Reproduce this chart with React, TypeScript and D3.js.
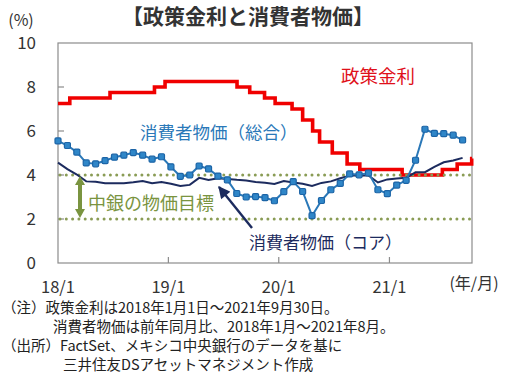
import React from "react";
import * as d3 from "d3";

// policy rate (step changes) and CPI
const rateDates = [
  "2018-01-01", "2018-02-09", "2018-06-22", "2018-11-16", "2018-12-21",
  "2019-08-16", "2019-09-27", "2019-11-15", "2019-12-20", "2020-02-14",
  "2020-03-20", "2020-04-22", "2020-05-15", "2020-06-26", "2020-08-14",
  "2020-09-25", "2021-02-12", "2021-06-25", "2021-08-13", "2021-09-30", "2021-10-01",
];
const rateValues = [
  7.25, 7.5, 7.75, 8.0, 8.25,
  8.0, 7.75, 7.5, 7.25, 7.0,
  6.5, 6.0, 5.5, 5.0, 4.5,
  4.25, 4.0, 4.25, 4.5, 4.75, 4.75,
];

const cpiHeadline = [
  5.55, 5.34, 5.04, 4.55, 4.51, 4.65, 4.81, 4.9, 5.02, 4.9, 4.72, 4.83,
  4.37, 3.94, 4.0, 4.41, 4.28, 3.95, 3.78, 3.16, 3.0, 3.02, 2.97, 2.83,
  3.24, 3.7, 3.25, 2.15, 2.84, 3.33, 3.62, 4.05, 4.01, 4.09, 3.33, 3.15,
  3.54, 3.76, 4.67, 6.08, 5.89, 5.88, 5.81, 5.59,
];
const cpiCore = [
  4.56, 4.27, 4.02, 3.71, 3.69, 3.62, 3.63, 3.63, 3.67, 3.73, 3.63, 3.68,
  3.6, 3.5, 3.55, 3.87, 3.77, 3.85, 3.82, 3.78, 3.75, 3.68, 3.65, 3.59,
  3.73, 3.66, 3.6, 3.5, 3.64, 3.71, 3.85, 3.97, 3.99, 3.98, 3.66, 3.8,
  3.84, 3.87, 4.12, 4.13, 4.37, 4.58, 4.66, 4.78,
];

const targetBand = [2, 4];
const yTicks = [0, 2, 4, 6, 8, 10];
const xTickDates = ["2018-01-01", "2019-01-01", "2020-01-01", "2021-01-01"];
const xTickLabels = ["18/1", "19/1", "20/1", "21/1"];

const notes = [
  "（注）政策金利は2018年1月1日～2021年9月30日。",
  "消費者物価は前年同月比、2018年1月～2021年8月。",
  "（出所）FactSet、メキシコ中央銀行のデータを基に",
  "三井住友DSアセットマネジメント作成",
];

const font = "'Noto Sans CJK JP', 'Noto Sans', sans-serif";
const parse = (s: string) => {
  const [y, m, d] = s.split("-").map(Number);
  return new Date(y, m - 1, d);
};

export default function App() {
  const width = 507;
  const height = 386;
  const left = 58, right = 472, top = 43, bottom = 263;

  const x = d3.scaleTime()
    .domain([parse("2018-01-01"), parse("2021-10-01")])
    .range([left, right]);
  // CPI is monthly on a category axis (2018/1 .. 2021/9)
  const months = d3.timeMonth.range(parse("2018-01-01"), parse("2021-10-01"));
  const xc = d3.scalePoint<Date>().domain(months).range([left, right]);
  const y = d3.scaleLinear().domain([0, 10]).range([bottom, top]);

  const ratePts = rateDates.map((d, i) => [x(parse(d)), y(rateValues[i])] as [number, number]);
  const stepLine = d3.line().curve(d3.curveStepAfter);
  const line = d3.line();

  const headPts = cpiHeadline.map((v, i) => [xc(months[i])!, y(v)] as [number, number]);
  const corePts = cpiCore.map((v, i) => [xc(months[i])!, y(v)] as [number, number]);

  const green = "#7a9440";
  const blue = "#2a78b8";
  const navy = "#1c2b5e";

  return (
    <svg width={width} height={height} style={{ position: "absolute", left: 0, top: 0, background: "#fff" }}
      fontFamily={font}>
      <defs>
        <marker id="navyArrow" viewBox="0 0 10 10" refX="9" refY="5" markerWidth="5.5" markerHeight="5"
          orient="auto" markerUnits="strokeWidth">
          <path d="M0,0 L10,5 L0,10 z" fill={navy} />
        </marker>
      </defs>

      <text x={248} y={24} textAnchor="middle" fontSize={21} fontWeight="bold" fill="#333">
        【政策金利と消費者物価】
      </text>
      <text x={21} y={26} textAnchor="middle" fontSize={16} fill="#333">(%)</text>

      {/* frame */}
      <rect x={left} y={top} width={right - left} height={bottom - top} fill="none" stroke="#8c8c8c" strokeWidth={1.2} />

      {yTicks.map(t => (
        <g key={t}>
          {t > 0 && t < 10 && <line x1={left} x2={left + 6} y1={y(t)} y2={y(t)} stroke="#8c8c8c" strokeWidth={1.2} />}
          <text x={36} y={y(t)} dy="0.36em" textAnchor="end" fontSize={17} fill="#333">{t}</text>
        </g>
      ))}
      {xTickDates.map((d, i) => (
        <g key={d}>
          {i > 0 && <line x1={x(parse(d))} x2={x(parse(d))} y1={bottom} y2={bottom - 6} stroke="#8c8c8c" strokeWidth={1.2} />}
          <text x={x(parse(d))} y={293} textAnchor="middle" fontSize={16.5} fill="#333">{xTickLabels[i]}</text>
        </g>
      ))}
      <text x={474} y={289} textAnchor="middle" fontSize={16} fill="#333">(年/月)</text>

      {/* policy rate */}
      <path d={stepLine(ratePts) ?? ""} fill="none" stroke="#f00000" strokeWidth={3.6} strokeLinejoin="miter" />

      {/* inflation target band */}
      {targetBand.map(v => (
        <line key={v} x1={left + 2} x2={right} y1={y(v)} y2={y(v)} stroke="#8a9c55" strokeWidth={3}
          strokeDasharray="0 6.3" strokeLinecap="round" />
      ))}

      {/* core CPI */}
      <path d={line(corePts) ?? ""} fill="none" stroke={navy} strokeWidth={2} />

      {/* headline CPI */}
      <path d={line(headPts) ?? ""} fill="none" stroke={blue} strokeWidth={2} />
      {headPts.map((p, i) => (
        <rect key={i} x={p[0] - 3} y={p[1] - 3} width={6} height={6} rx={1.2}
          fill="#2f86c8" stroke="#1c64a6" strokeWidth={1.2} />
      ))}

      {/* labels */}
      <text x={341} y={83} fontSize={18.5} fill="#e0101a">政策金利</text>
      <text x={140} y={139} fontSize={17.5} fill={blue}>消費者物価（総合）</text>
      <text x={249} y={249} fontSize={17} fill={navy}>消費者物価（コア）</text>
      <line x1={252} y1={228} x2={219} y2={187} stroke={navy} strokeWidth={2.4} markerEnd="url(#navyArrow)" />

      <text x={88} y={210} fontSize={18} fill={green}>中銀の物価目標</text>
      <path d={`M80,${y(4) + 1} L85,${y(4) + 10} L82,${y(4) + 10} L82,${y(2) - 10} L85,${y(2) - 10} L80,${y(2) - 1}
        L75,${y(2) - 10} L78,${y(2) - 10} L78,${y(4) + 10} L75,${y(4) + 10} Z`} fill={green} />

      {notes.map((n, i) => (
        <text key={i} x={i === 0 || i === 2 ? 2 : i === 1 ? 53 : 63} y={[313, 332, 351, 370][i]}
          fontSize={14.5} fill="#222">{n}</text>
      ))}
    </svg>
  );
}
